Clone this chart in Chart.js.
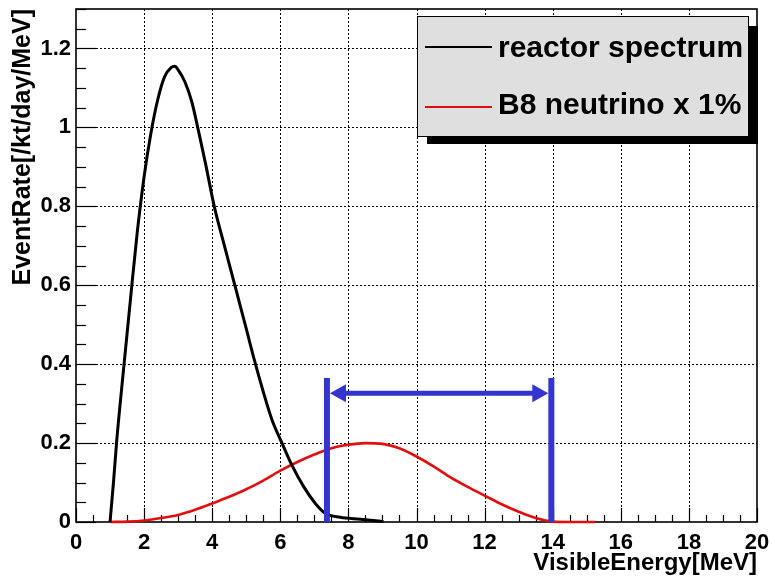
<!DOCTYPE html>
<html>
<head>
<meta charset="utf-8">
<script src="https://cdn.jsdelivr.net/npm/chart.js@4"></script>
<style>
  html, body { margin: 0; padding: 0; background: #fff; }
  #wrap { width: 772px; height: 578px; }
</style>
</head>
<body>
<div id="wrap"><canvas id="chart" width="772" height="578"></canvas></div>
<script>
// reactor antineutrino spectrum
const reactorEnergy = [1.0, 1.1, 1.2, 1.4, 1.6, 1.8, 2.0, 2.2, 2.4, 2.6, 2.8, 2.9, 3.0, 3.2, 3.4, 3.6, 3.8, 4.06, 4.35, 4.68, 5.0, 5.24, 5.5, 5.76, 6.05, 6.34, 6.69, 7.03, 7.32, 7.76, 8.35, 9.03];
const reactorRate = [0.0, 0.1, 0.21, 0.39, 0.565, 0.735, 0.875, 0.985, 1.07, 1.128, 1.152, 1.155, 1.146, 1.115, 1.065, 0.99, 0.91, 0.8, 0.703, 0.595, 0.49, 0.41, 0.33, 0.258, 0.2, 0.144, 0.089, 0.047, 0.022, 0.012, 0.007, 0.001];

// B8 solar neutrino spectrum scaled by 1%
const b8Energy = [1.0, 1.5, 2.0, 2.5, 3.0, 3.5, 4.0, 4.5, 5.0, 5.5, 6.0, 6.5, 7.0, 7.5, 8.0, 8.5, 9.0, 9.5, 10.0, 10.5, 11.0, 11.5, 12.0, 12.5, 13.0, 13.5, 14.0, 14.5, 15.0, 15.25];
const b8Rate = [0.0, 0.001, 0.004, 0.01, 0.018, 0.031, 0.047, 0.064, 0.083, 0.105, 0.13, 0.152, 0.171, 0.187, 0.196, 0.2, 0.198, 0.187, 0.166, 0.141, 0.113, 0.089, 0.067, 0.045, 0.026, 0.01, 0.001, 0.0, 0.0, 0.0];

const seriesLabels = ["reactor spectrum", "B8 neutrino x 1%"];
const xTicks = [0, 2, 4, 6, 8, 10, 12, 14, 16, 18, 20];
const yTicks = [0, 0.2, 0.4, 0.6, 0.8, 1, 1.2];

// selection window marked with the blue arrow
const windowEdges = [7.37, 13.96];
const windowTop = 0.365;
const arrowLevel = 0.326;

const FONT = '"Liberation Sans", Arial, Helvetica, sans-serif';

function toPoints(xs, ys) {
  return xs.map((x, i) => ({ x: x, y: ys[i] }));
}

// ROOT-like frame: dotted grid, inside ticks, solid box
const rootFrame = {
  id: "rootFrame",
  beforeDatasetsDraw(chart) {
    const { ctx, chartArea: a, scales } = chart;
    const x = scales.x, y = scales.y;
    ctx.save();
    ctx.strokeStyle = "#000";
    ctx.lineWidth = 1;
    ctx.setLineDash([2, 2]);
    x.ticks.forEach((t) => {
      if (t.value <= x.min || t.value >= x.max) return;
      const px = Math.round(x.getPixelForValue(t.value)) + 0.5;
      ctx.beginPath(); ctx.moveTo(px, a.top); ctx.lineTo(px, a.bottom); ctx.stroke();
    });
    y.ticks.forEach((t) => {
      if (t.value <= y.min || t.value >= y.max) return;
      const py = Math.round(y.getPixelForValue(t.value)) + 0.5;
      ctx.beginPath(); ctx.moveTo(a.left, py); ctx.lineTo(a.right, py); ctx.stroke();
    });
    ctx.setLineDash([]);

    // minor / major ticks drawn inward
    ctx.lineWidth = 1.2;
    for (let i = 0; i <= 40; i++) {
      const v = i * 0.5;
      const px = Math.round(x.getPixelForValue(v)) + 0.5;
      const len = i % 4 === 0 ? 14 : 7;
      ctx.beginPath(); ctx.moveTo(px, a.bottom); ctx.lineTo(px, a.bottom - len); ctx.stroke();
    }
    for (let i = 0; i <= 26; i++) {
      const v = i * 0.05;
      const py = Math.round(y.getPixelForValue(v)) + 0.5;
      const len = i % 4 === 0 ? 20 : 10;
      ctx.beginPath(); ctx.moveTo(a.left, py); ctx.lineTo(a.left + len, py); ctx.stroke();
    }

    ctx.lineWidth = 1.6;
    ctx.strokeRect(a.left, a.top, a.right - a.left, a.bottom - a.top);
    ctx.restore();
  },
  afterDatasetsDraw(chart) {
    const { ctx, scales } = chart;
    const x = scales.x, y = scales.y;
    const blue = "#3434cf";
    const xl = x.getPixelForValue(windowEdges[0]);
    const xr = x.getPixelForValue(windowEdges[1]);
    const y0 = y.getPixelForValue(0);
    const yt = y.getPixelForValue(windowTop);
    const ya = y.getPixelForValue(arrowLevel);
    ctx.save();
    ctx.strokeStyle = blue;
    ctx.fillStyle = blue;
    ctx.lineWidth = 6;
    [xl, xr].forEach((px) => {
      ctx.beginPath(); ctx.moveTo(px, y0); ctx.lineTo(px, yt); ctx.stroke();
    });
    const tipL = xl + 3, tipR = xr - 3;
    ctx.lineWidth = 5;
    ctx.beginPath(); ctx.moveTo(tipL + 8, ya); ctx.lineTo(tipR - 8, ya); ctx.stroke();
    ctx.beginPath();
    ctx.moveTo(tipL, ya); ctx.lineTo(tipL + 16, ya - 9); ctx.lineTo(tipL + 16, ya + 9); ctx.closePath();
    ctx.fill();
    ctx.beginPath();
    ctx.moveTo(tipR, ya); ctx.lineTo(tipR - 16, ya - 9); ctx.lineTo(tipR - 16, ya + 9); ctx.closePath();
    ctx.fill();
    ctx.restore();
  },
  afterDraw(chart) {
    const ctx = chart.ctx;
    ctx.save();
    // shadow + box
    ctx.fillStyle = "#000";
    ctx.fillRect(427, 26, 331, 118);
    ctx.fillStyle = "#dfdfdf";
    ctx.fillRect(417, 16, 332, 121);
    ctx.strokeStyle = "#000";
    ctx.lineWidth = 1;
    ctx.strokeRect(417.5, 16.5, 331, 120);
    const rows = [47, 107];
    const bases = [57, 114];
    chart.data.datasets.forEach((ds, i) => {
      ctx.strokeStyle = ds.borderColor;
      ctx.lineWidth = 2;
      ctx.beginPath(); ctx.moveTo(425, rows[i]); ctx.lineTo(492, rows[i]); ctx.stroke();
      ctx.fillStyle = "#000";
      ctx.font = "bold 30px " + FONT;
      ctx.textBaseline = "alphabetic";
      ctx.textAlign = "left";
      ctx.fillText(ds.label, 498, bases[i]);
    });
    ctx.restore();
  },
};

new Chart(document.getElementById("chart"), {
  type: "line",
  data: {
    datasets: [
      {
        label: seriesLabels[0],
        data: toPoints(reactorEnergy, reactorRate),
        borderColor: "#000000",
        borderWidth: 3,
        pointRadius: 0,
        cubicInterpolationMode: "monotone",
        fill: false,
        clip: false,
      },
      {
        label: seriesLabels[1],
        data: toPoints(b8Energy, b8Rate),
        borderColor: "#e01010",
        borderWidth: 2.6,
        pointRadius: 0,
        cubicInterpolationMode: "monotone",
        fill: false,
        clip: false,
      },
    ],
  },
  options: {
    responsive: false,
    animation: false,
    layout: { padding: { top: 9, right: 15, left: 0, bottom: 0 } },
    plugins: {
      legend: { display: false },
      tooltip: { enabled: false },
    },
    scales: {
      x: {
        type: "linear",
        min: 0,
        max: 20,
        afterBuildTicks: (s) => { s.ticks = xTicks.map((v) => ({ value: v })); },
        afterFit: (s) => { s.height = 56; s.paddingLeft = 0; s.paddingRight = 0; },
        grid: { display: false, drawTicks: false },
        border: { display: false },
        ticks: {
          padding: 8,
          color: "#000",
          maxRotation: 0,
          callback: (v) => String(v),
          font: { family: FONT, size: 22, weight: "bold" },
        },
        title: {
          display: true,
          text: "VisibleEnergy[MeV]",
          align: "end",
          color: "#000",
          padding: { top: 0, bottom: 0 },
          font: { family: FONT, size: 24, weight: "bold" },
        },
      },
      y: {
        type: "linear",
        min: 0,
        max: 1.3,
        afterBuildTicks: (s) => { s.ticks = yTicks.map((v) => ({ value: v })); },
        afterFit: (s) => { s.width = 76; s.paddingTop = 0; s.paddingBottom = 0; },
        grid: { display: false, drawTicks: false },
        border: { display: false },
        ticks: {
          padding: 5,
          color: "#000",
          callback: (v) => String(v),
          font: { family: FONT, size: 22, weight: "bold" },
        },
        title: {
          display: true,
          text: "EventRate[/kt/day/MeV]",
          align: "end",
          color: "#000",
          padding: { top: 8, bottom: 0 },
          font: { family: FONT, size: 25, weight: "bold" },
        },
      },
    },
  },
  plugins: [rootFrame],
});
</script>
</body>
</html>
